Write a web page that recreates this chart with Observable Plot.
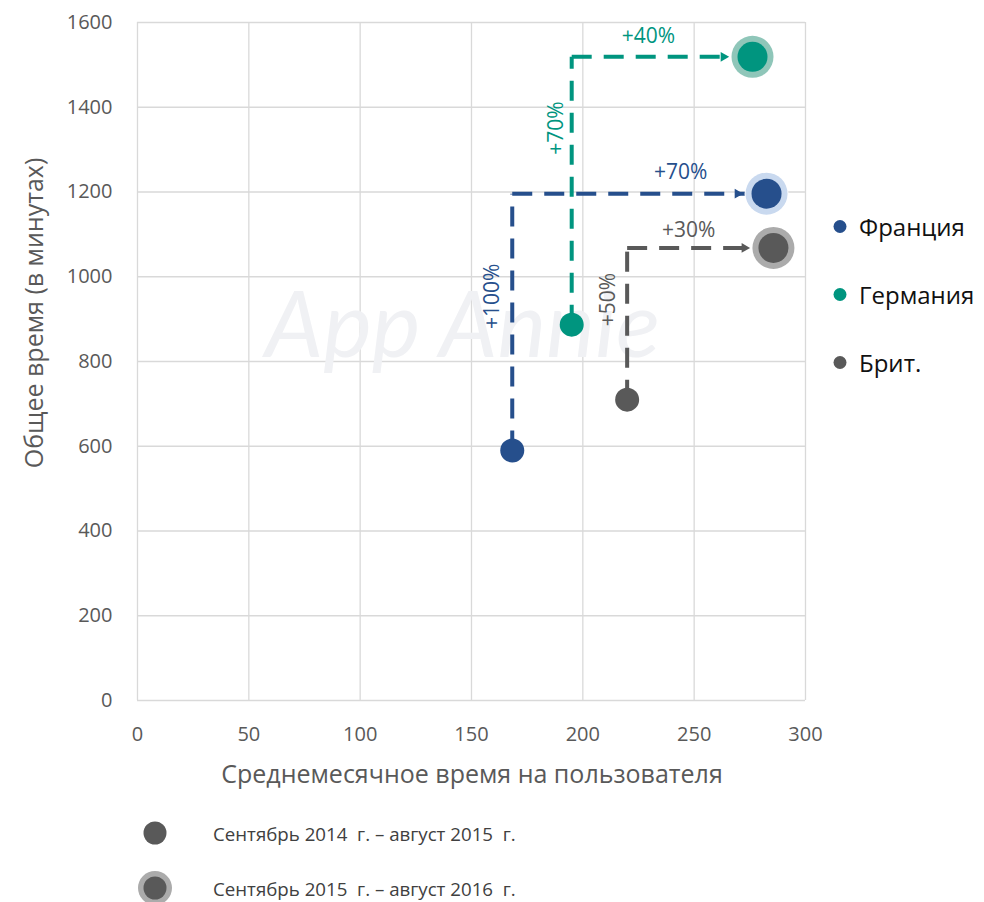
<!DOCTYPE html>
<html><head><meta charset="utf-8">
<script src="https://cdn.jsdelivr.net/npm/d3@7"></script>
<script src="https://cdn.jsdelivr.net/npm/@observablehq/plot@0.6"></script>
<style>
body{margin:0;background:#fff;font-family:"Open Sans",sans-serif;}
#wrap{position:relative;width:984px;height:902px;overflow:hidden;background:#fff;}
#chart{position:absolute;left:0;top:0;}
.ttl{position:absolute;color:#595959;font-size:25px;white-space:nowrap;line-height:1;}
.lg{position:absolute;white-space:pre;display:flex;align-items:center;}
</style></head><body>
<div id="wrap"><div id="chart"></div></div>
<script>
// ---- data ----
const countries = ["Франция", "Германия", "Брит."];
const colors = ["#264f8c", "#00957f", "#595959"];
const ringColors = ["#c9d9ef", "#8fc6b9", "#ababab"];
const x2015 = [168.3, 195.0, 219.9];   // среднемесячное время, 2014-15
const y2015 = [590, 887, 710];         // общее время, 2014-15
const x2016 = [282.5, 276.2, 285.6];   // 2015-16
const y2016 = [1196, 1519, 1068];
const hLabels = ["+70%", "+40%", "+30%"];
const hLabelX = [243.9, 229.5, 247.5];
const hLabelY = [1247, 1567, 1109];
const vLabels = ["+100%", "+70%", "+50%"];
const vLabelX = [159.3, 188.2, 211.5];
const vLabelY = [954, 1351, 946];
const xTicks = [0, 50, 100, 150, 200, 250, 300];
const yTicks = [0, 200, 400, 600, 800, 1000, 1200, 1400, 1600];
const periods = ["Сентябрь 2014  г. – август 2015  г.", "Сентябрь 2015  г. – август 2016  г."];
const xTitle = "Среднемесячное время на пользователя";
const yTitle = "Общее время (в минутах)";
const watermark = ["App Annie"];
const watermarkPos = {x: 146, y: 880};

const data = countries.map((c, i) => ({
  country: c, color: colors[i], ring: ringColors[i],
  x0: x2015[i], y0: y2015[i], x1: x2016[i], y1: y2016[i],
  hl: hLabels[i], hx: hLabelX[i], hy: hLabelY[i],
  vl: vLabels[i], vx: vLabelX[i], vy: vLabelY[i]
}));

const dash = "20,12";
const chart = Plot.plot({
  width: 984, height: 800,
  marginTop: 22, marginLeft: 137, marginRight: 179, marginBottom: 100,
  style: {fontFamily: "Open Sans, sans-serif", fontSize: "20px", color: "#595959", background: "transparent"},
  color: {type: "identity"},
  x: {domain: [0, 300], label: null},
  y: {domain: [0, 1600], label: null},
  marks: [
    Plot.gridX(xTicks, {stroke: "#d9d9d9", strokeOpacity: 1, strokeWidth: 1.3}),
    Plot.gridY(yTicks, {stroke: "#d9d9d9", strokeOpacity: 1, strokeWidth: 1.3}),
    Plot.text(watermark, {x: () => watermarkPos.x, y: () => watermarkPos.y, text: d => d,
      fontSize: 92, fontStyle: "italic", fontFamily: "Lato, sans-serif", fill: "#f0f1f4"}),
    Plot.axisX(xTicks, {tickSize: 0, tickPadding: 26, fill: "#595959", fontSize: 20, tickFormat: d => String(d)}),
    Plot.axisY(yTicks, {tickSize: 0, tickPadding: 25, fill: "#595959", fontSize: 20, tickFormat: d => String(d)}),
    Plot.link(data, {x1: "x0", y1: "y0", x2: "x0", y2: "y1", stroke: "color", strokeWidth: 4,
      strokeDasharray: dash, strokeLinecap: "butt"}),
    Plot.link(data, {x1: "x0", y1: "y1", x2: "x1", y2: "y1", stroke: "color", strokeWidth: 4,
      strokeDasharray: dash, strokeLinecap: "butt"}),
    Plot.dot(data, {x: "x1", y: "y1", r: 22, fill: "white"}),
    Plot.dot(data, {x: "x1", y: "y1", symbol: "triangle2", r: 4.7, rotate: 90, fill: "color", dx: -29}),
    Plot.dot(data, {x: "x0", y: "y0", r: 12, fill: "color"}),
    Plot.dot(data, {x: "x1", y: "y1", r: 21, fill: "ring"}),
    Plot.dot(data, {x: "x1", y: "y1", r: 15, fill: "color"}),
    Plot.text(data, {x: "hx", y: "hy", text: "hl", fill: "color", fontSize: 21}),
    Plot.text(data, {x: "vx", y: "vy", text: "vl", fill: "color", fontSize: 21, rotate: -90})
  ]
});
document.getElementById("chart").appendChild(chart);

const wrap = document.getElementById("wrap");
function addDiv(cls, html, css) {
  const d = document.createElement("div");
  d.className = cls; d.innerHTML = html; Object.assign(d.style, css); wrap.appendChild(d); return d;
}
// axis titles
addDiv("ttl", xTitle, {left: "472px", top: "773px", transform: "translate(-50%,-50%)"});
addDiv("ttl", yTitle, {left: "33px", top: "313px", transform: "translate(-50%,-50%) rotate(-90deg)"});

// right legend
countries.forEach((c, i) => {
  addDiv("lg", `<svg width="14" height="14" style="margin-right:12px"><circle cx="7" cy="7" r="6.5" fill="${colors[i]}"/></svg><span style="font-size:24px;color:#111">${c}</span>`,
    {left: "833px", top: (226 + i * 68) + "px", transform: "translateY(-50%)"});
});
// bottom legend
periods.forEach((p, i) => {
  const ring = i === 1 ? `<circle cx="20" cy="20" r="17" fill="#ababab"/>` : "";
  addDiv("lg", `<svg width="40" height="40" style="margin-right:38px">${ring}<circle cx="20" cy="20" r="11.5" fill="#595959"/></svg><span style="font-size:18.7px;color:#404040">${p}</span>`,
    {left: "135px", top: (833 + i * 55) + "px", transform: "translateY(-50%)"});
});
</script>
</body></html>
